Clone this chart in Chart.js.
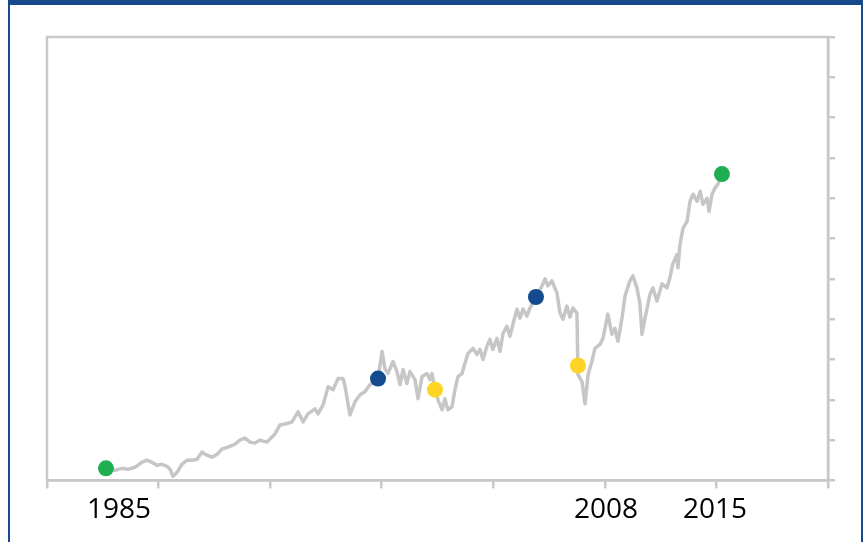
<!DOCTYPE html>
<html>
<head>
<meta charset="utf-8">
<script src="https://cdn.jsdelivr.net/npm/chart.js@4/dist/chart.umd.min.js"></script>
<style>
  html, body { margin: 0; padding: 0; background: #fff; }
  #wrap { position: relative; width: 864px; height: 542px; overflow: hidden; }
  #frame {
    position: absolute; left: 8px; top: 0; width: 851px; height: 560px;
    border-top: 5px solid #17498c; border-left: 2px solid #17498c; border-right: 2px solid #17498c;
    pointer-events: none;
  }
  canvas { position: absolute; left: 0; top: 0; }
</style>
</head>
<body>
<div id="wrap">
  <canvas id="myChart" width="864" height="542"></canvas>
  <div id="frame"></div>
</div>
<script>
// index line (decimal years / index level)
const years = [
  1985.00, 1985.45, 1985.79, 1986.09, 1986.44, 1986.78, 1987.03, 1987.28, 1987.52, 1987.77,
  1988.02, 1988.17, 1988.32, 1988.52, 1988.76, 1989.01, 1989.26, 1989.51, 1989.75, 1990.00,
  1990.25, 1990.50, 1990.74, 1991.04, 1991.39, 1991.63, 1991.88, 1992.13, 1992.38, 1992.62,
  1992.97, 1993.37, 1993.61, 1993.86, 1994.21, 1994.51, 1994.76, 1995.00, 1995.35, 1995.50,
  1995.75, 1996.00, 1996.24, 1996.49, 1996.74, 1996.84, 1997.08, 1997.33, 1997.58, 1997.82,
  1998.07, 1998.32, 1998.47, 1998.67, 1998.81, 1998.96, 1999.21, 1999.41, 1999.56, 1999.71,
  1999.90, 2000.05, 2000.30, 2000.45, 2000.65, 2000.89, 2001.04, 2001.14, 2001.29, 2001.44,
  2001.64, 2001.78, 2001.93, 2002.13, 2002.28, 2002.43, 2002.63, 2002.77, 2002.92, 2003.17,
  2003.37, 2003.52, 2003.67, 2003.86, 2004.01, 2004.16, 2004.36, 2004.51, 2004.66, 2004.85,
  2005.00, 2005.15, 2005.35, 2005.50, 2005.65, 2005.84, 2005.99, 2006.29, 2006.59, 2006.74,
  2006.88, 2007.08, 2007.33, 2007.48, 2007.63, 2007.82, 2007.97, 2008.12, 2008.32, 2008.37,
  2008.57, 2008.72, 2008.87, 2009.06, 2009.21, 2009.46, 2009.61, 2009.85, 2010.05, 2010.20,
  2010.35, 2010.55, 2010.70, 2010.94, 2011.09, 2011.29, 2011.44, 2011.54, 2011.69, 2011.94,
  2012.08, 2012.28, 2012.53, 2012.78, 2012.92, 2013.07, 2013.27, 2013.32, 2013.42, 2013.57,
  2013.77, 2013.92, 2014.07, 2014.27, 2014.42, 2014.56, 2014.76, 2014.86, 2015.01, 2015.15,
  2015.30, 2015.50
];
const index = [
  60, 50, 60, 55, 65, 90, 100, 90, 75, 80,
  70, 55, 20, 40, 80, 100, 100, 105, 140, 125,
  115, 130, 155, 165, 180, 200, 210, 190, 185, 200,
  190, 230, 275, 280, 290, 340, 290, 330, 355, 330,
  375, 465, 450, 505, 505, 465, 325, 390, 425, 440,
  475, 490, 505, 640, 555, 530, 590, 540, 475, 550,
  480, 540, 500, 405, 515, 530, 500, 530, 450, 400,
  350, 405, 350, 365, 450, 515, 530, 580, 630, 655,
  625, 650, 600, 665, 700, 650, 705, 640, 730, 765,
  715, 775, 850, 805, 850, 815, 855, 910, 965, 1000,
  965, 990, 930, 830, 800, 865, 810, 855, 830, 525,
  490, 380, 525, 590, 655, 675, 705, 825, 725, 755,
  690, 805, 915, 990, 1015, 955, 875, 725, 805, 925,
  955, 890, 975, 955, 1005, 1075, 1120, 1055, 1170, 1250,
  1285, 1385, 1420, 1385, 1435, 1370, 1400, 1335, 1420, 1450,
  1470, 1520
];

// highlighted points
const greenYears = [1985.0, 2015.5];
const greenValues = [60, 1520];
const blueYears = [1998.47, 2006.29];
const blueValues = [505, 910];
const yellowYears = [2001.29, 2008.37];
const yellowValues = [450, 570];

// year labels under the axis
const labelYears = [1985.64, 2009.76, 2015.15];
const labelTexts = ['1985', '2008', '2015'];

const xMin = 1982.08;
const xMax = 2020.75;
const xTickCount = 7;

const toPoints = (xs, ys) => xs.map((x, i) => ({ x: x, y: ys[i] }));

const axisGrey = '#c8c8c8';

const plotFrame = {
    id: 'plotFrame',
    afterDatasetsDraw(chart) {
        const a = chart.chartArea;
        const ctx = chart.ctx;
        ctx.save();
        ctx.strokeStyle = axisGrey;
        ctx.lineWidth = 2.5;
        ctx.strokeRect(a.left, a.top, a.right - a.left, a.bottom - a.top);
        ctx.restore();
    }
};

const markerSet = (data, color) => ({
    type: 'scatter',
    data: data,
    pointRadius: 8,
    pointHoverRadius: 8,
    pointBackgroundColor: color,
    pointBorderColor: color,
    pointBorderWidth: 0
});

var ctx = document.getElementById('myChart').getContext('2d');
// eslint-disable-next-line no-undef
new Chart(ctx, {
    type: 'line',
    data: {
        datasets: [
            markerSet(toPoints(greenYears, greenValues), '#1fae51'),
            markerSet(toPoints(blueYears, blueValues), '#144a8f'),
            markerSet(toPoints(yellowYears, yellowValues), '#ffd424'),
            {
                type: 'line',
                data: toPoints(years, index),
                borderColor: '#c6c6c6',
                borderWidth: 3.5,
                borderJoinStyle: 'round',
                pointRadius: 0,
                tension: 0
            }
        ]
    },
    options: {
        responsive: false,
        animation: false,
        layout: { padding: { left: 47, top: 37, right: 29, bottom: 10 } },
        plugins: { legend: { display: false }, tooltip: { enabled: false } },
        scales: {
            x: {
                type: 'linear',
                min: xMin,
                max: xMax,
                afterBuildTicks: (axis) => {
                    const step = (xMax - xMin) / xTickCount;
                    axis.ticks = [];
                    for (let i = 0; i <= xTickCount; i++) axis.ticks.push({ value: xMin + i * step });
                },
                ticks: { display: false },
                grid: { drawOnChartArea: false, color: axisGrey, lineWidth: 2.5, tickLength: 8 },
                border: { color: axisGrey, width: 2.5 }
            },
            years: {
                type: 'linear',
                position: 'bottom',
                min: xMin,
                max: xMax,
                afterBuildTicks: (axis) => {
                    axis.ticks = labelYears.map(v => ({ value: v }));
                },
                ticks: {
                    autoSkip: false,
                    maxRotation: 0,
                    padding: 5,
                    color: '#000',
                    font: { family: 'Open Sans', size: 28 },
                    callback: (value) => labelTexts[labelYears.indexOf(value)]
                },
                grid: { display: false, drawTicks: false },
                border: { display: false }
            },
            y: {
                position: 'right',
                min: 0,
                max: 2200,
                ticks: { display: false, stepSize: 200 },
                grid: { drawOnChartArea: false, color: axisGrey, lineWidth: 2.5, tickLength: 7 },
                border: { color: axisGrey, width: 2.5 }
            }
        }
    },
    plugins: [plotFrame]
});
</script>
</body>
</html>
